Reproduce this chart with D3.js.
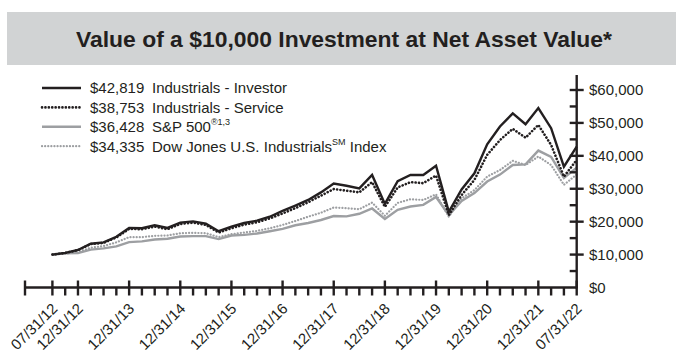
<!DOCTYPE html>
<html>
<head>
<meta charset="utf-8">
<script src="https://cdn.jsdelivr.net/npm/d3@7"></script>
<style>
  html, body { margin: 0; padding: 0; background: #fff; }
  svg { display: block; }
  text { font-family: "Liberation Sans", Arial, Helvetica, sans-serif; fill: #231f20; }
  .title { font-family: "Liberation Sans Narrow", "Arial Narrow", "Liberation Sans", sans-serif; }
</style>
</head>
<body>
<svg id="chart" width="676" height="352"></svg>
<script>
// Period-end dates (first point 07/31/12, quarter ends, last point 07/31/22)
const dates = [
  "07/31/12","09/30/12","12/31/12",
  "03/31/13","06/30/13","09/30/13","12/31/13",
  "03/31/14","06/30/14","09/30/14","12/31/14",
  "03/31/15","06/30/15","09/30/15","12/31/15",
  "03/31/16","06/30/16","09/30/16","12/31/16",
  "03/31/17","06/30/17","09/30/17","12/31/17",
  "03/31/18","06/30/18","09/30/18","12/31/18",
  "03/31/19","06/30/19","09/30/19","12/31/19",
  "03/31/20","06/30/20","09/30/20","12/31/20",
  "03/31/21","06/30/21","09/30/21","12/31/21",
  "03/31/22","06/30/22","07/31/22"
];

// Growth of $10,000 for each series
const investor = [10000,10500,11400,13300,13700,15400,18100,18000,18900,18100,19700,20100,19400,17100,18500,
  19600,20300,21500,23300,24900,26600,28900,31600,30900,30100,34200,25400,32300,34200,34200,37000,
  23000,29800,34700,43500,48900,52900,49600,54500,48400,36700,42819];
const service = [10000,10480,11350,13200,13550,15200,17800,17700,18500,17700,19300,19700,19000,16700,18000,
  19100,19800,21000,22500,24100,25900,27900,29900,29400,28900,32000,24500,30400,32000,31700,34000,
  22000,28100,32700,40300,44800,48200,45500,49400,43300,33700,38753];
const sp500 = [10000,10400,10450,11500,11900,12500,13800,14000,14600,14800,15500,15600,15600,14700,15800,
  16000,16400,17100,17800,18900,19600,20500,21700,21600,22400,24000,20800,23600,24600,25100,27500,
  22000,26300,28700,32200,34300,37200,37400,41600,39700,33300,36428];
const djIndustrials = [10000,10300,10700,12100,12600,13700,15300,15300,15700,15800,16500,16600,16500,15300,16200,
  16700,17200,18000,19000,20200,21500,22700,24300,24100,23800,25800,21800,25700,26800,26600,28300,
  21500,27100,29600,33700,35700,38500,37200,39800,37200,31200,34335];

// Dates that carry a label on the time axis
const tickLabels = ["07/31/12","12/31/12","12/31/13","12/31/14","12/31/15","12/31/16",
  "12/31/17","12/31/18","12/31/19","12/31/20","12/31/21","07/31/22"];

const yTicks = [0,10000,20000,30000,40000,50000,60000];
const yMinorTicks = [5000,15000,25000,35000,45000,55000];

const legendValues = ["$42,819","$38,753","$36,428","$34,335"];

const title = "Value of a $10,000 Investment at Net Asset Value*";

// ---- layout ----
const svg = d3.select("#chart");
const black = "#231f20", gray = "#9d9fa2";
const axisLeft = 25, axisRight = 576.7, axisBottom = 287.5, axisTop = 75;

const x = d3.scaleLinear().domain([0, dates.length - 1]).range([52.4, axisRight]);
const y = d3.scaleLinear().domain([0, 60000]).range([axisBottom, 90]);

// title band; glyphs squeezed into a fixed width for a condensed look
svg.append("rect").attr("x", 7).attr("y", 12).attr("width", 669).attr("height", 53).attr("fill", "#d1d3d4");
svg.append("text").attr("class", "title").attr("x", 344).attr("y", 47).attr("text-anchor", "middle")
  .attr("font-size", 22).attr("font-weight", "bold")
  .attr("textLength", 536).attr("lengthAdjust", "spacingAndGlyphs")
  .text(title);

// series lines
const series = [
  { name: "Industrials - Investor", values: investor, color: black, width: 2.4, dash: null },
  { name: "Industrials - Service", values: service, color: black, width: 2.6, dash: "0.1,3.3" },
  { name: "S&P 500", values: sp500, color: gray, width: 2.4, dash: null },
  { name: "Dow Jones U.S. Industrials", values: djIndustrials, color: gray, width: 2.2, dash: "0.1,3" }
];

const line = d3.line().x((d, i) => x(i)).y(d => y(d));
const drawOrder = [3, 2, 1, 0];
drawOrder.forEach(k => {
  const s = series[k];
  svg.append("path").datum(s.values).attr("d", line)
    .attr("fill", "none").attr("stroke", s.color).attr("stroke-width", s.width)
    .attr("stroke-linejoin", "miter").attr("stroke-linecap", s.dash ? "round" : "butt")
    .attr("stroke-dasharray", s.dash);
});

// x axis
const xa = svg.append("g").attr("stroke", black).attr("stroke-width", 2.4);
xa.append("line").attr("x1", axisLeft).attr("x2", axisRight).attr("y1", axisBottom).attr("y2", axisBottom);
xa.append("line").attr("x1", axisLeft).attr("x2", axisLeft).attr("y1", axisBottom - 7).attr("y2", axisBottom + 8);
dates.forEach((d, i) => {
  const major = tickLabels.includes(d);
  xa.append("line").attr("x1", x(i)).attr("x2", x(i))
    .attr("y1", major ? axisBottom - 7 : axisBottom).attr("y2", axisBottom + 8);
});
const xl = svg.append("g").attr("font-size", 15);
dates.forEach((d, i) => {
  if (!tickLabels.includes(d)) return;
  xl.append("text").attr("text-anchor", "end")
    .attr("transform", `translate(${x(i) + 6},${axisBottom + 22}) rotate(-45)`)
    .text(d);
});

// y axis
const ya = svg.append("g").attr("stroke", black).attr("stroke-width", 2.4);
ya.append("line").attr("x1", axisRight).attr("x2", axisRight).attr("y1", axisTop).attr("y2", axisBottom + 1);
yTicks.forEach(v => {
  if (v === 0) return;
  ya.append("line").attr("x1", axisRight - 7).attr("x2", axisRight + 7).attr("y1", y(v)).attr("y2", y(v));
});
yMinorTicks.forEach(v => {
  ya.append("line").attr("x1", axisRight - 7).attr("x2", axisRight).attr("y1", y(v)).attr("y2", y(v));
});
const fmt = d3.format("$,");
svg.append("g").attr("font-size", 15).selectAll("text").data(yTicks).join("text")
  .attr("x", 589).attr("y", d => y(d)).attr("dy", "0.36em").text(d => fmt(d));

// legend
const lg = svg.append("g").attr("font-size", 15);
series.forEach((s, i) => {
  const ly = 88 + i * 19.4;
  lg.append("line").attr("x1", 42).attr("x2", 81).attr("y1", ly).attr("y2", ly)
    .attr("stroke", s.color).attr("stroke-width", s.width)
    .attr("stroke-dasharray", s.dash).attr("stroke-linecap", s.dash ? "round" : "butt");
  lg.append("text").attr("x", 90).attr("y", ly).attr("dy", "0.36em").text(legendValues[i]);
  const t = lg.append("text").attr("x", 152).attr("y", ly).attr("dy", "0.36em");
  t.append("tspan").text(s.name);
  if (i === 2) {
    t.append("tspan").attr("font-size", 9).attr("dy", "-0.75em").text("®1,3");
  } else if (i === 3) {
    t.append("tspan").attr("font-size", 9).attr("dy", "-0.75em").text("SM");
    t.append("tspan").attr("dy", "0.45em").text(" Index");
  }
});
</script>
</body>
</html>
